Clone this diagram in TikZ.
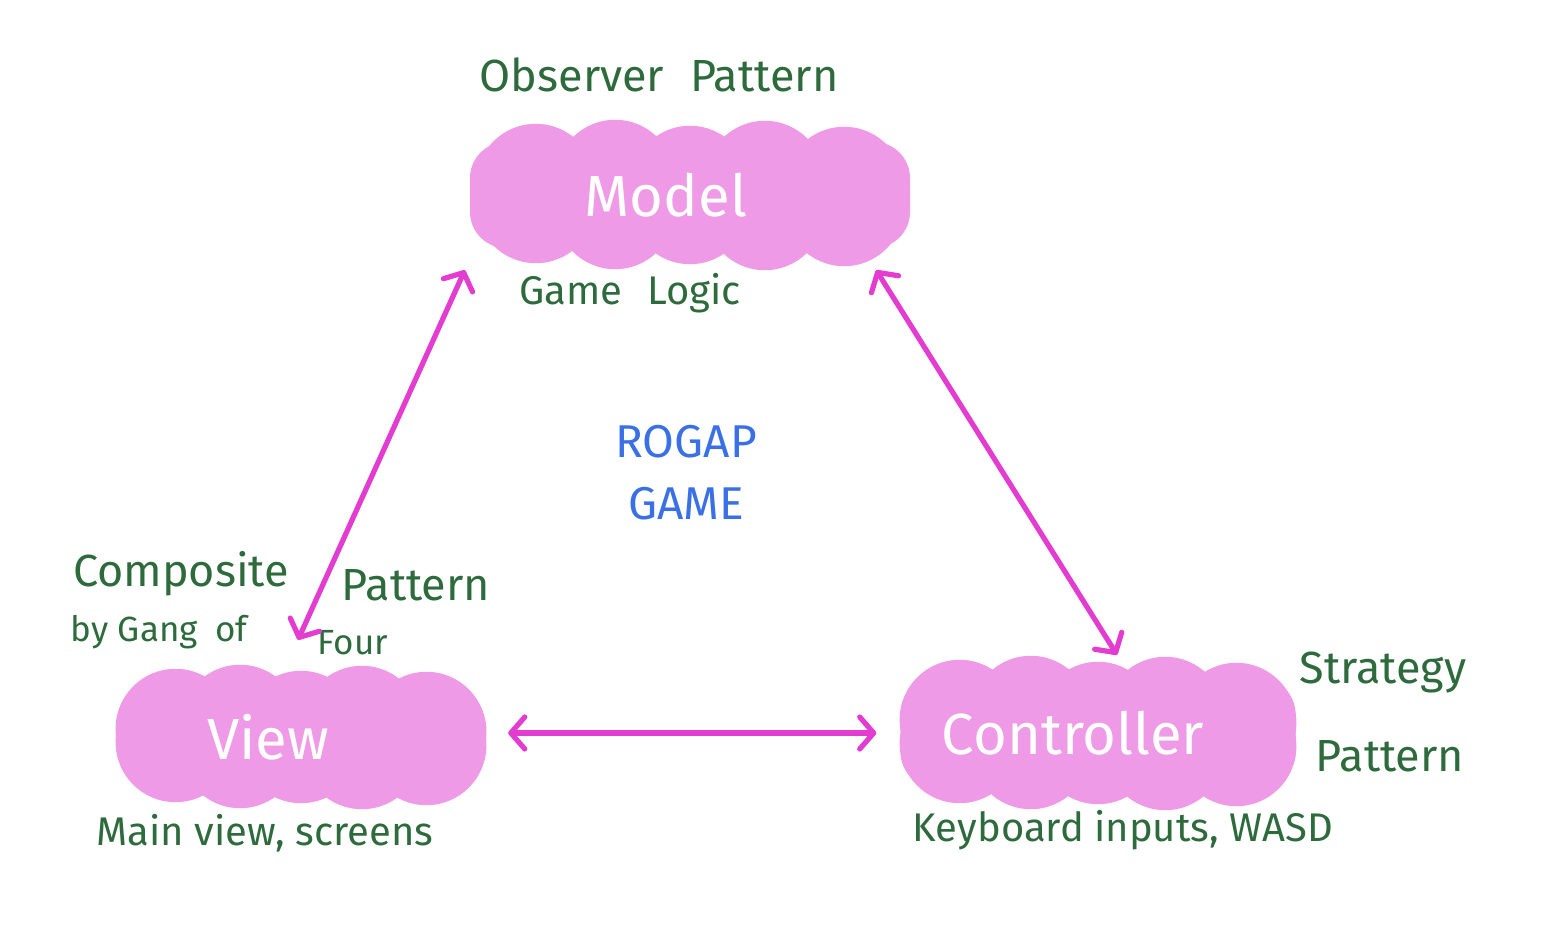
\documentclass[tikz,border=0pt]{standalone}
\usepackage{fontspec}
\setmainfont{Fira Sans}
\usetikzlibrary{arrows.meta,positioning,calc,backgrounds}
\definecolor{MvcPink}{HTML}{EE9AE6}
\definecolor{MvcMagenta}{HTML}{E23CD0}
\definecolor{MvcGreen}{HTML}{2E6B3C}
\definecolor{MvcBlue}{HTML}{3A70E6}

\begin{document}
\begin{tikzpicture}[x=1pt,y=1pt,
    blob/.style={fill=MvcPink,rounded corners=36pt,text=white,font=\fontsize{58}{60}\selectfont},
    note/.style={text=MvcGreen,inner sep=0pt,font=\fontsize{40}{44}\selectfont},
    big/.style={font=\fontsize{45}{48}\selectfont},
    small/.style={font=\fontsize{35}{38}\selectfont},
    link/.style={{Straight Barb[length=14pt,width=32pt,round]}-{Straight Barb[length=14pt,width=32pt,round]},line width=5.2pt,line cap=round,MvcMagenta}
  ]
  \useasboundingbox (0,0) rectangle (1556,943);
  % the three parts
  \node[blob,minimum width=440pt,minimum height=106pt] (model) at (690,748) {Model\hspace*{48pt}};
  \node[blob,minimum width=358pt,minimum height=100pt] (view) at (301,206) {View\hspace*{66pt}};
  \node[blob,minimum width=395pt,minimum height=110pt] (ctrl) at (1098,210) {Controller\hspace*{50pt}};
  % puffy edges
  \begin{scope}[on background layer]
    \foreach \n in {model,view,ctrl}
      \foreach \t/\d in {0.15/-42,0.33/-38,0.5/-44,0.67/-39,0.85/-45} {
        \fill[MvcPink] ($(\n.north west)!\t!(\n.north east)+(0,\d)$) circle (60pt);
        \fill[MvcPink] ($(\n.south west)!1-\t!(\n.south east)-(0,\d)$) circle (60pt);
      }
  \end{scope}
  % notes
  \node[note,big] (obs) at (659,868) {Observer\hspace{14pt} Pattern};
  \node[note] (logic) at (630,650) {Game\hspace{14pt} Logic};
  \node[note,big,text=MvcBlue,align=center,font=\fontsize{46}{62}\selectfont] (title) at (686,470) {ROGAP\\GAME};
  \node[note,big] (comp) at (181,369) {Composite};
  \node[note,big] (pat) at (416,358) {Pattern};
  \node[note,small] (gof) at (159,311) {by Gang\hspace{8pt} of};
  \node[note,small] (four) at (353,300) {Four};
  \node[note,big] (strat) at (1383,270) {Strategy};
  \node[note,big] (spat) at (1390,187) {Pattern};
  \node[note] (mainv) at (265,110) {Main view, screens};
  \node[note] (keys) at (1123,113) {Keyboard inputs, WASD};
  % links
  \draw[link] ($(model.south west)+(-5,-22)$) -- ($(view.north)+(-3,47)$);
  \draw[link] ($(model.south east)+(-34,-22)$) -- ($(ctrl.north)+(19,23)$);
  \draw[link] ($(view.east)+(28,4)$) -- ($(ctrl.west)+(-24,0)$);
\end{tikzpicture}
\end{document}
